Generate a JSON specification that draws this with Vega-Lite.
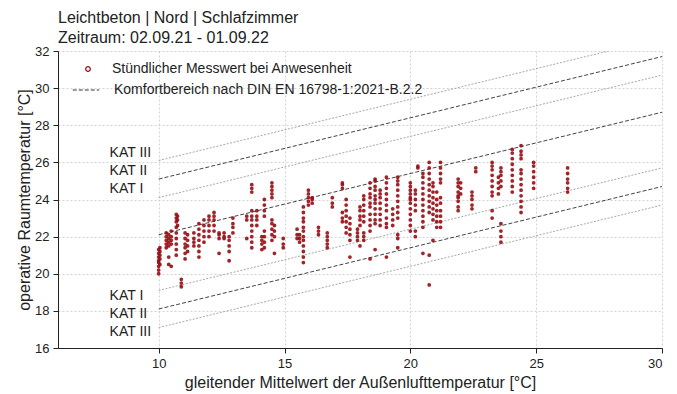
{
  "$schema": "https://vega.github.io/schema/vega-lite/v6.json",
  "width": 604,
  "height": 297,
  "autosize": "none",
  "padding": {"left": 58, "top": 51, "right": 15, "bottom": 46},
  "background": "white",
  "title": {
    "text": ["Leichtbeton | Nord | Schlafzimmer", "Zeitraum: 02.09.21 - 01.09.22"],
    "anchor": "start",
    "frame": "group",
    "font": "Liberation Sans",
    "fontSize": 16,
    "fontWeight": "normal",
    "color": "#222222",
    "lineHeight": 20,
    "offset": -1
  },
  "config": {
    "view": {"stroke": null},
    "font": "Liberation Sans",
    "axis": {
      "labelFont": "Liberation Sans",
      "titleFont": "Liberation Sans",
      "labelFontSize": 13,
      "titleFontSize": 16,
      "titleFontWeight": "normal",
      "labelColor": "#222222",
      "titleColor": "#222222",
      "domainColor": "#222222",
      "tickColor": "#222222",
      "tickSize": 5,
      "gridColor": "#c8c8c8",
      "gridDash": [2, 2],
      "gridWidth": 0.8,
      "labelOverlap": false
    }
  },
  "datasets": {
    "light": [
      {"k": "up1", "x": 10, "y": 24.1}, {"k": "up1", "x": 30, "y": 30.7},
      {"k": "up3", "x": 10, "y": 26.1}, {"k": "up3", "x": 30, "y": 32.7},
      {"k": "lo1", "x": 10, "y": 19.1}, {"k": "lo1", "x": 30, "y": 25.7},
      {"k": "lo3", "x": 10, "y": 17.1}, {"k": "lo3", "x": 30, "y": 23.7}
    ],
    "dark": [
      {"k": "n", "x": 10, "y": 22.1}, {"k": "n", "x": 30, "y": 28.7},
      {"k": "up2", "x": 10, "y": 25.1}, {"k": "up2", "x": 30, "y": 31.7},
      {"k": "lo2", "x": 10, "y": 18.1}, {"k": "lo2", "x": 30, "y": 24.7}
    ],
    "labels": [
      {"t": "KAT III", "x": 8.05, "y": 26.5},
      {"t": "KAT II", "x": 8.05, "y": 25.53},
      {"t": "KAT I", "x": 8.05, "y": 24.55},
      {"t": "KAT I", "x": 8.05, "y": 18.8},
      {"t": "KAT II", "x": 8.05, "y": 17.83},
      {"t": "KAT III", "x": 8.05, "y": 16.86}
    ],
    "pts": [
      {"x":10.0,"y":20.0},{"x":10.0,"y":20.2},{"x":10.0,"y":20.4},{"x":10.0,"y":20.6},{"x":10.0,"y":20.7},{"x":10.0,"y":20.9},{"x":10.0,"y":21.1},{"x":10.0,"y":21.3},
      {"x":10.05,"y":20.5},{"x":10.05,"y":20.8},{"x":10.05,"y":21.0},{"x":10.05,"y":21.2},{"x":10.05,"y":21.4},
      {"x":10.3,"y":21.4},{"x":10.3,"y":21.6},{"x":10.3,"y":21.8},{"x":10.3,"y":22.0},{"x":10.3,"y":22.2},
      {"x":10.4,"y":21.5},{"x":10.4,"y":21.7},{"x":10.4,"y":21.9},{"x":10.4,"y":22.1},{"x":10.4,"y":20.9},{"x":10.4,"y":20.5},
      {"x":10.5,"y":21.6},{"x":10.5,"y":21.8},{"x":10.5,"y":22.0},{"x":10.5,"y":22.3},{"x":10.5,"y":20.4},
      {"x":10.7,"y":21.0},{"x":10.7,"y":21.3},{"x":10.7,"y":21.6},{"x":10.7,"y":21.9},{"x":10.7,"y":22.2},{"x":10.7,"y":22.5},{"x":10.7,"y":22.8},{"x":10.7,"y":23.0},{"x":10.7,"y":23.2},
      {"x":10.75,"y":22.6},{"x":10.75,"y":22.9},{"x":10.75,"y":23.1},
      {"x":10.9,"y":19.3},{"x":10.9,"y":19.5},{"x":10.9,"y":19.7},
      {"x":11.05,"y":20.8},{"x":11.05,"y":21.1},{"x":11.05,"y":21.4},{"x":11.05,"y":21.6},{"x":11.05,"y":21.9},{"x":11.05,"y":22.2},
      {"x":11.15,"y":21.2},{"x":11.15,"y":21.5},{"x":11.15,"y":21.8},{"x":11.15,"y":22.1},
      {"x":11.4,"y":21.5},{"x":11.4,"y":21.7},{"x":11.4,"y":21.9},{"x":11.4,"y":22.2},
      {"x":11.6,"y":20.9},{"x":11.6,"y":21.2},{"x":11.6,"y":21.5},{"x":11.6,"y":21.8},{"x":11.6,"y":22.1},{"x":11.6,"y":22.4},{"x":11.6,"y":22.7},
      {"x":11.8,"y":21.7},{"x":11.8,"y":22.0},{"x":11.8,"y":22.3},{"x":11.8,"y":22.6},{"x":11.8,"y":22.9},
      {"x":12.0,"y":22.0},{"x":12.0,"y":22.3},{"x":12.0,"y":22.6},{"x":12.0,"y":22.9},{"x":12.0,"y":23.1},
      {"x":12.2,"y":22.3},{"x":12.2,"y":22.6},{"x":12.2,"y":22.9},{"x":12.2,"y":23.1},{"x":12.2,"y":23.3},
      {"x":12.4,"y":21.1},{"x":12.4,"y":21.9},{"x":12.4,"y":22.1},{"x":12.4,"y":22.2},
      {"x":12.6,"y":21.9},{"x":12.6,"y":22.0},{"x":12.6,"y":22.2},
      {"x":12.8,"y":21.2},{"x":12.8,"y":21.5},{"x":12.8,"y":21.8},{"x":12.8,"y":22.0},{"x":12.8,"y":20.7},
      {"x":12.95,"y":22.2},{"x":12.95,"y":22.5},{"x":12.95,"y":22.7},{"x":12.95,"y":23.0},
      {"x":13.5,"y":22.9},{"x":13.5,"y":23.1},{"x":13.5,"y":21.9},
      {"x":13.7,"y":24.4},{"x":13.7,"y":24.6},{"x":13.7,"y":24.8},{"x":13.7,"y":23.1},{"x":13.7,"y":23.4},{"x":13.7,"y":22.0},{"x":13.7,"y":22.3},{"x":13.7,"y":22.6},{"x":13.7,"y":22.9},{"x":13.7,"y":21.4},{"x":13.7,"y":21.7},
      {"x":13.9,"y":22.6},{"x":13.9,"y":22.9},{"x":13.9,"y":23.1},{"x":13.9,"y":23.4},
      {"x":14.1,"y":21.3},{"x":14.1,"y":21.6},{"x":14.1,"y":21.8},{"x":14.1,"y":22.0},
      {"x":14.2,"y":23.1},{"x":14.2,"y":23.4},{"x":14.2,"y":23.7},{"x":14.2,"y":24.0},{"x":14.2,"y":21.4},{"x":14.2,"y":21.7},{"x":14.2,"y":22.0},{"x":14.2,"y":22.3},
      {"x":14.5,"y":24.1},{"x":14.5,"y":24.3},{"x":14.5,"y":24.5},{"x":14.5,"y":24.7},{"x":14.5,"y":24.9},{"x":14.5,"y":21.8},{"x":14.5,"y":22.1},{"x":14.5,"y":22.4},{"x":14.5,"y":22.7},{"x":14.5,"y":22.9},
      {"x":14.6,"y":22.0},{"x":14.6,"y":22.3},{"x":14.6,"y":22.6},{"x":14.6,"y":21.1},
      {"x":14.95,"y":21.4},{"x":14.95,"y":21.6},{"x":14.95,"y":21.9},
      {"x":15.5,"y":21.9},{"x":15.5,"y":22.1},{"x":15.5,"y":22.4},
      {"x":15.6,"y":21.7},{"x":15.6,"y":21.9},{"x":15.6,"y":22.1},
      {"x":15.75,"y":23.0},{"x":15.75,"y":23.3},{"x":15.75,"y":23.6},{"x":15.75,"y":22.3},{"x":15.75,"y":22.5},{"x":15.75,"y":22.8},{"x":15.75,"y":20.6},{"x":15.75,"y":20.9},{"x":15.75,"y":21.2},{"x":15.75,"y":21.5},{"x":15.75,"y":21.8},{"x":15.75,"y":22.0},
      {"x":15.95,"y":23.7},{"x":15.95,"y":23.9},{"x":15.95,"y":24.1},{"x":15.95,"y":24.3},{"x":15.95,"y":24.5},
      {"x":16.1,"y":23.8},{"x":16.1,"y":24.0},{"x":16.1,"y":24.1},
      {"x":16.35,"y":22.1},{"x":16.35,"y":22.3},{"x":16.35,"y":22.5},
      {"x":16.7,"y":21.4},{"x":16.7,"y":21.6},{"x":16.7,"y":21.8},{"x":16.7,"y":22.0},{"x":16.7,"y":22.2},
      {"x":16.9,"y":23.6},{"x":16.9,"y":23.8},{"x":16.9,"y":24.1},
      {"x":17.3,"y":24.6},{"x":17.3,"y":24.8},{"x":17.3,"y":24.9},{"x":17.3,"y":22.8},{"x":17.3,"y":23.0},{"x":17.3,"y":23.3},
      {"x":17.45,"y":22.2},{"x":17.45,"y":22.5},{"x":17.45,"y":22.8},{"x":17.45,"y":23.1},{"x":17.45,"y":23.4},{"x":17.45,"y":23.7},{"x":17.45,"y":24.0},
      {"x":17.6,"y":21.8},{"x":17.6,"y":22.1},{"x":17.6,"y":22.4},{"x":17.6,"y":22.7},{"x":17.6,"y":23.0},{"x":17.6,"y":20.9},
      {"x":17.9,"y":21.8},{"x":17.9,"y":22.0},{"x":17.9,"y":22.2},{"x":17.9,"y":22.4},
      {"x":18.0,"y":22.6},{"x":18.0,"y":22.9},{"x":18.0,"y":23.1},{"x":18.0,"y":23.4},{"x":18.0,"y":23.6},{"x":18.0,"y":21.5},
      {"x":18.15,"y":22.8},{"x":18.15,"y":23.1},{"x":18.15,"y":23.4},{"x":18.15,"y":23.7},{"x":18.15,"y":24.0},{"x":18.15,"y":24.2},{"x":18.15,"y":21.8},{"x":18.15,"y":22.0},{"x":18.15,"y":22.2},
      {"x":18.4,"y":23.6},{"x":18.4,"y":23.8},{"x":18.4,"y":24.1},{"x":18.4,"y":24.3},{"x":18.4,"y":24.6},{"x":18.4,"y":24.9},{"x":18.4,"y":22.3},{"x":18.4,"y":22.6},{"x":18.4,"y":22.9},{"x":18.4,"y":23.2},{"x":18.4,"y":20.8},
      {"x":18.6,"y":24.0},{"x":18.6,"y":24.2},{"x":18.6,"y":24.5},{"x":18.6,"y":24.7},{"x":18.6,"y":25.0},{"x":18.6,"y":25.1},{"x":18.6,"y":22.7},{"x":18.6,"y":22.9},{"x":18.6,"y":23.2},{"x":18.6,"y":23.5},{"x":18.6,"y":23.8},{"x":18.6,"y":21.3},
      {"x":18.8,"y":22.6},{"x":18.8,"y":22.9},{"x":18.8,"y":23.2},{"x":18.8,"y":23.5},{"x":18.8,"y":23.8},{"x":18.8,"y":24.1},{"x":18.8,"y":24.3},{"x":18.8,"y":24.5},
      {"x":19.05,"y":23.4},{"x":19.05,"y":23.7},{"x":19.05,"y":24.0},{"x":19.05,"y":24.3},{"x":19.05,"y":24.6},{"x":19.05,"y":24.9},{"x":19.05,"y":25.2},{"x":19.05,"y":22.5},{"x":19.05,"y":22.7},{"x":19.05,"y":23.0},{"x":19.05,"y":20.9},
      {"x":19.3,"y":22.6},{"x":19.3,"y":22.9},{"x":19.3,"y":23.2},{"x":19.3,"y":23.5},
      {"x":19.5,"y":23.0},{"x":19.5,"y":23.3},{"x":19.5,"y":23.6},{"x":19.5,"y":23.9},{"x":19.5,"y":24.2},{"x":19.5,"y":24.5},{"x":19.5,"y":24.8},{"x":19.5,"y":25.0},{"x":19.5,"y":25.2},{"x":19.5,"y":22.1},{"x":19.5,"y":21.9},{"x":19.5,"y":21.4},
      {"x":20.0,"y":24.1},{"x":20.0,"y":24.3},{"x":20.0,"y":24.5},{"x":20.0,"y":24.7},{"x":20.0,"y":24.9},{"x":20.0,"y":22.3},{"x":20.0,"y":22.6},{"x":20.0,"y":22.9},{"x":20.0,"y":23.2},{"x":20.0,"y":23.5},{"x":20.0,"y":23.8},{"x":20.0,"y":24.0},
      {"x":20.2,"y":23.4},{"x":20.2,"y":23.7},{"x":20.2,"y":24.0},{"x":20.2,"y":24.3},{"x":20.2,"y":24.5},{"x":20.2,"y":22.0},{"x":20.2,"y":22.3},
      {"x":20.3,"y":25.7},{"x":20.3,"y":25.8},
      {"x":20.5,"y":22.5},{"x":20.5,"y":22.8},{"x":20.5,"y":23.1},{"x":20.5,"y":23.4},{"x":20.5,"y":23.7},{"x":20.5,"y":24.0},{"x":20.5,"y":24.3},{"x":20.5,"y":24.6},{"x":20.5,"y":24.9},{"x":20.5,"y":25.2},{"x":20.5,"y":25.4},{"x":20.5,"y":21.1},
      {"x":20.75,"y":23.3},{"x":20.75,"y":23.6},{"x":20.75,"y":23.9},{"x":20.75,"y":24.2},{"x":20.75,"y":24.5},{"x":20.75,"y":24.8},{"x":20.75,"y":25.1},{"x":20.75,"y":25.4},{"x":20.75,"y":25.7},{"x":20.75,"y":26.0},{"x":20.75,"y":21.0},{"x":20.75,"y":19.4},
      {"x":20.9,"y":22.9},{"x":20.9,"y":23.2},{"x":20.9,"y":23.5},{"x":20.9,"y":23.8},{"x":20.9,"y":24.1},{"x":20.9,"y":24.4},{"x":20.9,"y":24.7},{"x":20.9,"y":24.9},{"x":20.9,"y":21.8},
      {"x":21.05,"y":22.5},{"x":21.05,"y":22.8},{"x":21.05,"y":23.1},{"x":21.05,"y":23.4},{"x":21.05,"y":23.7},{"x":21.05,"y":24.0},{"x":21.05,"y":24.4},
      {"x":21.2,"y":24.9},{"x":21.2,"y":25.1},{"x":21.2,"y":25.4},{"x":21.2,"y":25.7},{"x":21.2,"y":26.0},{"x":21.2,"y":22.5},{"x":21.2,"y":22.8},{"x":21.2,"y":23.1},{"x":21.2,"y":23.4},{"x":21.2,"y":23.8},{"x":21.2,"y":24.1},
      {"x":21.9,"y":24.2},{"x":21.9,"y":24.4},{"x":21.9,"y":24.7},{"x":21.9,"y":24.9},{"x":21.9,"y":25.1},{"x":21.9,"y":23.4},{"x":21.9,"y":23.6},{"x":21.9,"y":23.9},{"x":21.9,"y":24.1},
      {"x":22.0,"y":24.3},{"x":22.0,"y":24.6},{"x":22.0,"y":24.9},
      {"x":22.45,"y":23.5},{"x":22.45,"y":23.7},{"x":22.45,"y":24.0},{"x":22.45,"y":24.2},{"x":22.45,"y":24.4},
      {"x":22.6,"y":25.5},{"x":22.6,"y":25.7},
      {"x":23.25,"y":24.2},{"x":23.25,"y":24.4},{"x":23.25,"y":24.7},{"x":23.25,"y":25.0},{"x":23.25,"y":25.3},{"x":23.25,"y":25.6},{"x":23.25,"y":25.8},{"x":23.25,"y":26.0},{"x":23.25,"y":23.4},{"x":23.25,"y":23.0},
      {"x":23.5,"y":24.3},{"x":23.5,"y":24.6},{"x":23.5,"y":24.9},{"x":23.5,"y":25.2},
      {"x":23.6,"y":24.7},{"x":23.6,"y":25.0},{"x":23.6,"y":25.3},{"x":23.6,"y":25.5},{"x":23.6,"y":25.7},{"x":23.6,"y":21.7},{"x":23.6,"y":22.0},{"x":23.6,"y":22.3},{"x":23.6,"y":22.7},
      {"x":24.05,"y":24.4},{"x":24.05,"y":24.7},{"x":24.05,"y":25.0},{"x":24.05,"y":25.3},{"x":24.05,"y":25.6},{"x":24.05,"y":25.9},{"x":24.05,"y":26.2},{"x":24.05,"y":26.5},{"x":24.05,"y":26.7},
      {"x":24.4,"y":26.2},{"x":24.4,"y":26.4},{"x":24.4,"y":26.6},{"x":24.4,"y":26.9},{"x":24.4,"y":23.3},{"x":24.4,"y":23.6},{"x":24.4,"y":23.9},{"x":24.4,"y":24.2},{"x":24.4,"y":24.5},{"x":24.4,"y":24.8},{"x":24.4,"y":25.1},{"x":24.4,"y":25.4},{"x":24.4,"y":25.6},
      {"x":24.9,"y":24.6},{"x":24.9,"y":24.9},{"x":24.9,"y":25.2},{"x":24.9,"y":25.5},{"x":24.9,"y":25.8},{"x":24.9,"y":26.0},
      {"x":26.25,"y":24.4},{"x":26.25,"y":24.6},{"x":26.25,"y":24.9},{"x":26.25,"y":25.1},{"x":26.25,"y":25.4},{"x":26.25,"y":25.7}
    ]
  },
  "layer": [
    {
      "data": {"name": "light"},
      "mark": {"type": "line", "clip": true, "color": "#a8a8a8", "strokeWidth": 1, "strokeDash": [2, 1.5]},
      "encoding": {
        "x": {"field": "x", "type": "quantitative", "scale": {"domain": [6, 30], "nice": false, "zero": false},
              "axis": {"values": [10, 15, 20, 25, 30], "title": "gleitender Mittelwert der Außenlufttemperatur [°C]", "titlePadding": 4, "labelPadding": 4}},
        "y": {"field": "y", "type": "quantitative", "scale": {"domain": [16, 32], "nice": false, "zero": false},
              "axis": {"values": [16, 18, 20, 22, 24, 26, 28, 30, 32], "tickCount": 9, "labelOverlap": false, "title": "operative Raumtemperatur [°C]", "titlePadding": 2, "labelPadding": 4}},
        "detail": {"field": "k"}
      }
    },
    {
      "data": {"name": "dark"},
      "mark": {"type": "line", "clip": true, "color": "#444444", "strokeWidth": 1},
      "encoding": {
        "x": {"field": "x", "type": "quantitative"},
        "y": {"field": "y", "type": "quantitative"},
        "detail": {"field": "k"},
        "strokeDash": {
          "datum": "Komfortbereich nach DIN EN 16798-1:2021-B.2.2",
          "scale": {"range": [[4, 2]]},
          "legend": {
            "title": null, "orient": "none", "legendX": 14, "legendY": 25, "padding": 0,
            "symbolType": "stroke", "symbolSize": 700, "symbolStrokeWidth": 1,
            "symbolStrokeColor": "#333333",
            "labelFont": "Liberation Sans", "labelFontSize": 14, "labelColor": "#222222", "labelOffset": 14, "labelLimit": 500,
            "encode": {"symbols": {"update": {"strokeDash": {"value": [2, 1]}, "stroke": {"value": "#333333"}}}}
          }
        }
      }
    },
    {
      "data": {"name": "pts"},
      "mark": {"type": "point", "shape": "circle", "filled": false, "size": 4, "strokeWidth": 1.8, "opacity": 0.9},
      "encoding": {
        "x": {"field": "x", "type": "quantitative"},
        "y": {"field": "y", "type": "quantitative"},
        "color": {
          "datum": "Stündlicher Messwert bei Anwesenheit",
          "scale": {"range": ["#960c14"]},
          "legend": {
            "title": null, "orient": "none", "legendX": 23, "legendY": 11, "padding": 0,
            "symbolType": "circle", "symbolSize": 22, "symbolStrokeWidth": 1.2, "symbolOpacity": 1,
            "labelFont": "Liberation Sans", "labelFontSize": 14, "labelColor": "#222222", "labelOffset": 17, "labelLimit": 500,
            "encode": {"symbols": {"update": {"stroke": {"value": "#b8505a"}, "strokeWidth": {"value": 1.2}}}}
          }
        }
      }
    },
    {
      "data": {"name": "labels"},
      "mark": {"type": "text", "align": "left", "baseline": "middle", "font": "Liberation Sans", "fontSize": 14, "color": "#222222"},
      "encoding": {
        "x": {"field": "x", "type": "quantitative"},
        "y": {"field": "y", "type": "quantitative"},
        "text": {"field": "t"}
      }
    }
  ]
}
